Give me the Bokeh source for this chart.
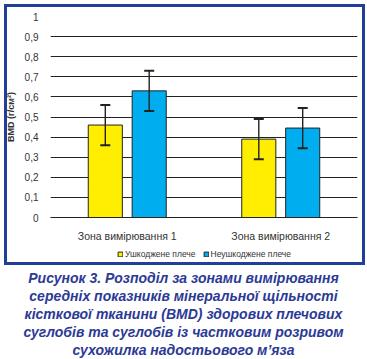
from bokeh.plotting import figure
from bokeh.models import (ColumnDataSource, FixedTicker, Whisker, TeeHead, Legend,
                          LegendItem, Div, Range1d)
from bokeh.layouts import column
from bokeh.transform import dodge
from bokeh.embed import file_html
from bokeh.resources import INLINE

# ---- data ----
zones = ["Зона вимірювання 1", "Зона вимірювання 2"]
series_names = ["Ушкоджене плече", "Неушкоджене плече"]
damaged = [0.46, 0.39]
damaged_err = [0.10, 0.10]
undamaged = [0.63, 0.445]
undamaged_err = [0.10, 0.10]
y_ticks = [0, 0.1, 0.2, 0.3, 0.4, 0.5, 0.6, 0.7, 0.8, 0.9, 1.0]
y_tick_labels = ["0", "0,1", "0,2", "0,3", "0,4", "0,5", "0,6", "0,7", "0,8", "0,9", "1"]
y_title = "BMD (г/см²)"
caption_lines = [
    "Рисунок 3. Розподіл за зонами вимірювання",
    "середніх показників мінеральної щільності",
    "кісткової тканини (BMD) здорових плечових",
    "суглобів та суглобів із частковим розривом",
    "сухожилка надостьового м’яза",
]

YELLOW = "#FFEE00"
BLUE = "#00AEEF"
FRAME_BLUE = "#1F3F99"
CAPTION_BLUE = "#2B3A95"
INK = "#222222"
FONT = "Liberation Sans"

src = ColumnDataSource(dict(
    zone=zones,
    d=damaged,
    d_up=[v + e for v, e in zip(damaged, damaged_err)],
    d_lo=[v - e for v, e in zip(damaged, damaged_err)],
    u=undamaged,
    u_up=[v + e for v, e in zip(undamaged, undamaged_err)],
    u_lo=[v - e for v, e in zip(undamaged, undamaged_err)],
))

OFF = 0.143
W = 0.222

# ---- chart ----
p = figure(width=367, height=244, x_range=zones, y_range=(0, 1),
           output_backend="svg", toolbar_location=None,
           min_border_left=50, min_border_right=10, min_border_top=16,
           min_border_bottom=19)
p.outline_line_color = None
p.background_fill_color = "white"
p.border_fill_alpha = 0

p.vbar(x=dodge("zone", -OFF, range=p.x_range), top="d", width=W, source=src,
       fill_color=YELLOW, line_color=INK, line_width=1)
p.vbar(x=dodge("zone", OFF, range=p.x_range), top="u", width=W, source=src,
       fill_color=BLUE, line_color=INK, line_width=1)

for key, off in (("d", -OFF), ("u", OFF)):
    wk = Whisker(base=dodge("zone", off, range=p.x_range), upper=key + "_up",
                 lower=key + "_lo", source=src, line_color=INK, line_width=1.4,
                 level="overlay",
                 upper_head=TeeHead(size=10, line_color=INK, line_width=2),
                 lower_head=TeeHead(size=10, line_color=INK, line_width=2))
    p.add_layout(wk)

p.yaxis.ticker = FixedTicker(ticks=y_ticks)
p.yaxis.major_label_overrides = {t: l for t, l in zip(y_ticks, y_tick_labels)}
p.yaxis.axis_line_color = None
p.yaxis.major_tick_line_color = None
p.yaxis.minor_tick_line_color = None
p.yaxis.major_label_text_font = FONT
p.yaxis.major_label_text_font_size = "10px"
p.yaxis.major_label_text_color = "#333333"
p.yaxis.major_label_standoff = 6
p.yaxis.axis_label = y_title
p.yaxis.axis_label_text_font = FONT
p.yaxis.axis_label_text_font_size = "9px"
p.yaxis.axis_label_text_font_style = "bold"
p.yaxis.axis_label_text_color = "#333333"
p.yaxis.axis_label_standoff = 6

p.xaxis.axis_line_color = INK
p.xaxis.major_tick_line_color = None
p.xaxis.minor_tick_line_color = None
p.xaxis.major_label_text_font = FONT
p.xaxis.major_label_text_font_size = "10.5px"
p.xaxis.major_label_text_color = "#333333"
p.xaxis.major_label_standoff = 6

p.xgrid.grid_line_color = None
p.ygrid.ticker = FixedTicker(ticks=y_ticks)
p.ygrid.grid_line_color = INK
p.ygrid.grid_line_width = 1

# ---- legend strip: same series drawn on an out-of-view y range, only the
# legend inside its frame is visible ----
lg = figure(width=367, height=21, x_range=p.x_range, y_range=Range1d(2, 3),
            output_backend="svg", toolbar_location=None,
            x_axis_type=None, y_axis_type=None,
            min_border_left=50, min_border_right=10, min_border_top=0,
            min_border_bottom=0)
lg.outline_line_color = None
lg.grid.grid_line_color = None
lg.background_fill_alpha = 0
lg.border_fill_alpha = 0
k1 = lg.vbar(x=dodge("zone", -OFF, range=lg.x_range), top="d", width=W, source=src,
             fill_color=YELLOW, line_color=INK, line_width=1)
k2 = lg.vbar(x=dodge("zone", OFF, range=lg.x_range), top="u", width=W, source=src,
             fill_color=BLUE, line_color=INK, line_width=1)
legend = Legend(items=[LegendItem(label=series_names[0], renderers=[k1]),
                       LegendItem(label=series_names[1], renderers=[k2])],
                orientation="horizontal", location=(67, 6),
                label_text_font=FONT, label_text_font_size="8.5px",
                label_text_color="#333333", glyph_width=6, glyph_height=6,
                label_height=8, label_standoff=2, spacing=7, padding=0, margin=0,
                border_line_color=None, background_fill_alpha=0)
lg.add_layout(legend, "center")

# blue frame around chart + legend (drawn as CSS background of the wrapper)
g = "linear-gradient(%s,%s)" % (FRAME_BLUE, FRAME_BLUE)
boxed = column(p, lg, spacing=0, styles={
    "background-color": "white",
    "background-image": ", ".join([g] * 4),
    "background-repeat": "no-repeat",
    "background-position": "4px 4px, 4px 262px, 4px 4px, 362px 4px",
    "background-size": "361px 3px, 361px 3px, 3px 261px, 3px 261px",
})

# ---- caption ----
cap_html = ('<div style="font-family:\'%s\';font-weight:bold;font-style:italic;'
            'font-size:14px;line-height:18px;color:%s;text-align:center;'
            'padding-top:4px;width:367px;">%s</div>'
            % (FONT, CAPTION_BLUE, "<br>".join(caption_lines)))
cap = Div(text=cap_html, width=367, height=94, margin=0)

layout = column(boxed, cap, spacing=0)
open("out.html", "w").write(file_html(layout, INLINE))
